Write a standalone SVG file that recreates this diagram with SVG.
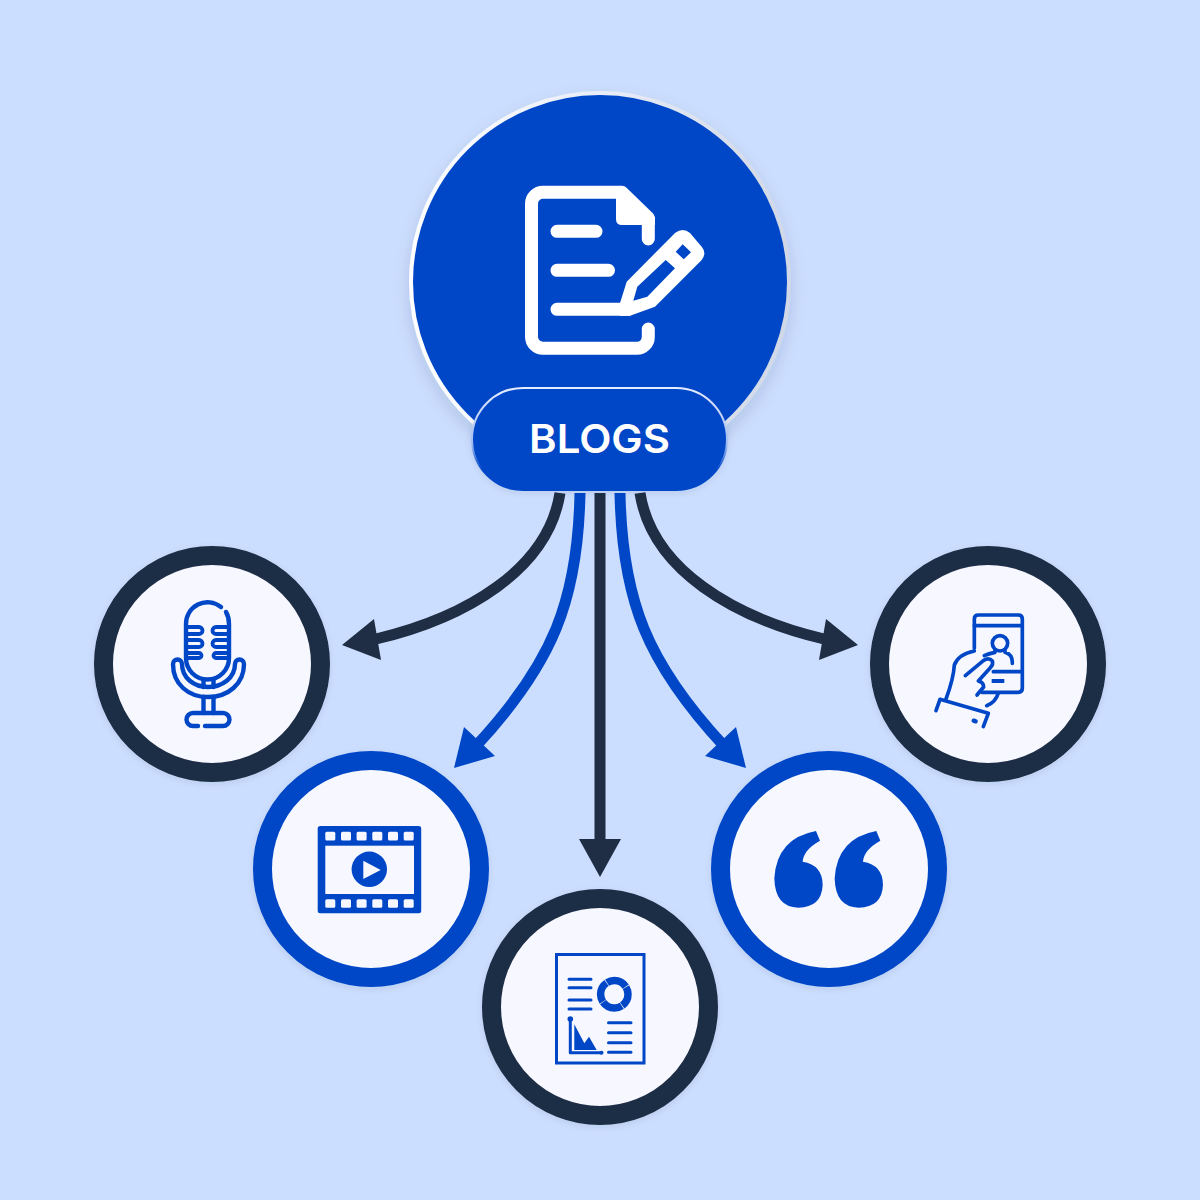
<svg xmlns="http://www.w3.org/2000/svg" xmlns:xlink="http://www.w3.org/1999/xlink" width="1200" height="1200" viewBox="0 0 1200 1200">
<style>
.ring{fill:#f6f7ff;stroke-width:19}
.dark{stroke:#1f2d45}
.blue{stroke:#0047c8}
.line{fill:none;stroke-width:11}
.hd{fill:#1f2d45}
.hb{fill:#0047c8}
.ic{fill:none;stroke:#0047c8;stroke-linecap:round;stroke-linejoin:round}
.fb{fill:#0047c8}
.doc{fill:none;stroke:#fff;stroke-width:13;stroke-linecap:round;stroke-linejoin:round}
</style>
<defs>
<linearGradient id="rim" x1="0" y1="0" x2="1" y2="0"><stop offset="0" stop-color="#ffffff"/><stop offset="0.5" stop-color="#e9edf8"/><stop offset="1" stop-color="#d0d7e6"/></linearGradient>
<linearGradient id="pillrim" x1="0" y1="0" x2="0" y2="1"><stop offset="0" stop-color="#e4ecff"/><stop offset="0.55" stop-color="#9fbaf0"/><stop offset="0.8" stop-color="#0047c8"/><stop offset="1" stop-color="#0047c8"/></linearGradient>
<filter id="sh" x="-20%" y="-20%" width="140%" height="140%"><feDropShadow dx="0" dy="7" stdDeviation="8" flood-color="#1f2d45" flood-opacity="0.14"/></filter>
<filter id="sh2" x="-20%" y="-20%" width="140%" height="140%"><feDropShadow dx="0" dy="2" stdDeviation="3" flood-color="#1f2d45" flood-opacity="0.1"/></filter>
<path id="q" d="M168 33L180 62Q130 90 128 125Q188 135 188 195Q185 262 115 263Q45 262 43 175Q50 55 168 33Z"/>
</defs>
<rect width="1200" height="1200" fill="#ccdeff"/>
<g id="connectors">
<path class="line dark" d="M560 493C548 570 465 618 376 639"/>
<polygon class="hd" points="342,645 374,619 381,660"/>
<path class="line blue" d="M580 493C578 600 553 663 476 746"/>
<polygon class="hb" points="454,768 464,727 495,756"/>
<path class="line dark" d="M600 493V842"/>
<polygon class="hd" points="600,877 579,839 621,839"/>
<path class="line blue" d="M620 493C622 600 647 663 724 746"/>
<polygon class="hb" points="746,768 736,727 705,756"/>
<path class="line dark" d="M640 493C652 570 735 618 824 639"/>
<polygon class="hd" points="858,645 826,619 819,660"/>
</g>
<g id="node-blogs">
<circle cx="600" cy="282" r="189" fill="#0047c8" stroke="url(#rim)" stroke-width="4" filter="url(#sh)"/>
<g id="icon-document">
<path class="doc" d="M648.300 239V218L622 192.300H543A11.500 11.500 0 0 0 531.500 203.800V336.800A11.500 11.500 0 0 0 543 348.300H637A11.300 11.300 0 0 0 648.300 337V329"/>
<path fill="#fff" d="M616 192H624L655 217V225H622Q616 225 616 219Z"/>
<path class="doc" d="M557 231.300H596M557 270.300H608.500M557 309.300H628"/>
<path fill="#fff" fill-rule="evenodd" d="M620 303L626.700 281.700L675 233Q683 227 690 233L701.700 246.700Q707 253 701.700 260L655 306.700L630 315.700L620 316ZM633.300 300.700L647.300 296.700L675 268.300L665.700 260L637.300 286.700ZM682.700 244.300L691 252.300L683.700 259.300L675.700 251.700Z"/>
</g>
<rect x="472" y="388" width="255" height="102" rx="51" fill="#0047c8" stroke="url(#pillrim)" stroke-width="2" filter="url(#sh2)"/>
<text x="599.500" y="453" text-anchor="middle" font-family="Inter, 'Liberation Sans', sans-serif" font-weight="600" font-size="40" fill="#ffffff" textLength="141" lengthAdjust="spacingAndGlyphs">BLOGS</text>
</g>
<g id="node-mic">
<circle class="ring dark" cx="212" cy="664" r="108.500" filter="url(#sh2)"/>
<g class="ic" stroke-width="4.400">
<path d="M221 607A21.500 21.500 0 0 0 186 624.500V658A21.500 21.500 0 0 0 229 658V624Q229 617 226 612"/>
<path stroke-width="3.800" d="M187 627H199a3.500 3.500 0 0 1 0 7H187M187 640H199a3.500 3.500 0 0 1 0 7H187M187 653H199a2.500 2.500 0 0 1 0 5H188M228 627H216a3.500 3.500 0 0 0 0 7H228M228 640H216a3.500 3.500 0 0 0 0 7H228M228 653H216a2.500 2.500 0 0 0 0 5H227"/>
<path d="M173 664A4.500 4.500 0 0 1 182 664C182 678 194 687 208 687S235 678 235 664A4.500 4.500 0 0 1 244 664C244 684 228 697 208 697S173 684 173 664Z"/>
<path d="M203.500 680V687M213.500 680V687M203.500 697V713M213.500 697V713"/>
<path d="M198 726H193A6.500 6.500 0 0 1 193 713H223A6.500 6.500 0 0 1 223 726H205"/>
</g>
</g>
<g id="node-video">
<circle class="ring blue" cx="371" cy="869" r="108.500" filter="url(#sh2)"/>
<rect class="fb" x="317.700" y="826" width="103.500" height="87.300" rx="2.500"/>
<g fill="#f6f7ff">
<rect x="325.300" y="845.700" width="88.700" height="48.300"/>
<rect x="325.300" y="831.700" width="10" height="8.700" rx="1.500"/><rect x="341" y="831.700" width="10" height="8.700" rx="1.500"/><rect x="356.600" y="831.700" width="10" height="8.700" rx="1.500"/><rect x="372.300" y="831.700" width="10" height="8.700" rx="1.500"/><rect x="388" y="831.700" width="10" height="8.700" rx="1.500"/><rect x="403.700" y="831.700" width="10" height="8.700" rx="1.500"/>
<rect x="325.300" y="899.300" width="10" height="8.500" rx="1.500"/><rect x="341" y="899.300" width="10" height="8.500" rx="1.500"/><rect x="356.600" y="899.300" width="10" height="8.500" rx="1.500"/><rect x="372.300" y="899.300" width="10" height="8.500" rx="1.500"/><rect x="388" y="899.300" width="10" height="8.500" rx="1.500"/><rect x="403.700" y="899.300" width="10" height="8.500" rx="1.500"/>
</g>
<circle class="fb" cx="369.300" cy="869.300" r="17.700"/>
<polygon fill="#f6f7ff" points="363.300,860.700 363.300,879 380.700,870"/>
</g>
<g id="node-report">
<circle class="ring dark" cx="600" cy="1007" r="108.500" filter="url(#sh2)"/>
<rect x="556.500" y="954.500" width="87.500" height="108.500" fill="none" stroke="#0047c8" stroke-width="3"/>
<g class="ic" stroke-width="3">
<path d="M569 979.300H591M569 987.700H591M569 1000H591M569 1009H591M608.500 1022.700H631M608.500 1032.700H631M608.500 1042.700H631M608.500 1052.300H631"/>
<path d="M570.300 1019V1052.700H601"/>
</g>
<circle class="fb" cx="570.300" cy="1019" r="2.800"/>
<circle class="fb" cx="601.500" cy="1052.700" r="2"/>
<circle cx="614.300" cy="994.300" r="13.700" fill="none" stroke="#0047c8" stroke-width="7.500" stroke-dasharray="20.900 0.600" stroke-dashoffset="8"/>
<polygon class="fb" points="574.300,1024.300 584.300,1043.300 589,1036.700 596.700,1050 574.300,1050"/>
</g>
<g id="node-quote">
<circle class="ring blue" cx="829" cy="869" r="108.500" filter="url(#sh2)"/>
<g transform="translate(760 820) scale(0.3333)" class="fb">
<use xlink:href="#q" href="#q"/>
<use xlink:href="#q" href="#q" x="181"/>
</g>
</g>
<g id="node-phone">
<circle class="ring dark" cx="988" cy="664" r="108.500" filter="url(#sh2)"/>
<g class="ic" stroke-width="11" transform="translate(925 605) scale(0.3333)">
<path d="M148 130V42Q148 30 160 30H280Q292 30 292 42V250Q292 262 280 262H170"/>
<path d="M148 62H292M205 200H292"/>
<circle cx="225" cy="115" r="23"/>
<path d="M210 134V142Q190 146 178 152M240 134V142Q262 148 262 172V175"/>
<path d="M121 212L176 166Q192 156 202 168Q206 178 196 188L160 228Q176 232 176 246L156 270"/>
<path d="M148 138Q100 148 88 180Q86 220 62 285M185 302Q212 292 220 264"/>
<path d="M33 317L45 283L190 325L175 365"/>
<path stroke-width="13" d="M146 347L152 349"/>
<path stroke-width="12" stroke-linecap="butt" d="M200 228H238"/>
</g>
</g>
</svg>
